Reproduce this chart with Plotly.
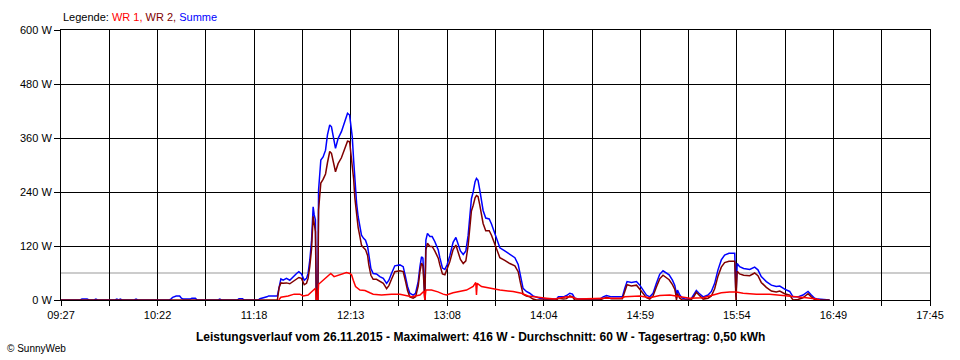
import numpy as np
import plotly.graph_objects as go

# ---------------- data (time = minutes after midnight, values in W) ----------------
zeit = [
    567, 578, 579, 582, 583, 586, 587, 588, 598, 599,
    600, 601, 602, 609, 610, 611, 629, 630, 631, 633,
    635, 636, 637, 641, 642, 644, 645, 657, 658, 659,
    668, 669, 671, 672, 680, 681, 685, 686, 691, 692,
    693, 694.3, 696.2, 698.1, 700, 702, 703.3, 704.8, 706.4, 707.7,
    708.6, 709.6, 710.6, 711.5, 712.1, 712.8, 713.3, 714.2, 714.6, 715.9,
    717.2, 718.6, 719.7, 721, 722, 723.2, 724.3, 725.8, 727.7, 729.6,
    731.2, 732.4, 733.1, 733.9, 734.7, 735.4, 736.4, 737.3, 738.3, 739.2,
    740.4, 741.5, 742.7, 743.4, 744.6, 745.9, 747.8, 749.7, 751.7, 753.6,
    754.9, 756.4, 758.3, 761.2, 763.1, 764.4, 765.6, 766.9, 768.8, 770.2,
    771.7, 772.7, 773.6, 774.4, 775.1, 775.5, 776.1, 777, 778.4, 779.7,
    781.2, 783.2, 784.1, 785.6, 787, 788.3, 789.8, 791.7, 793.3, 794.6,
    795.9, 797.5, 799, 800.3, 801.3, 802.2, 803.2, 804.3, 805.1, 806,
    807, 808, 808.9, 810.4, 812.4, 813.7, 815, 816.6, 818.5, 821.3,
    824.2, 827.1, 829, 830.3, 831.8, 833.7, 835.6, 837.5, 839.5, 841.4,
    845, 851, 852, 855, 856.7, 858.6, 860.1, 861.4, 863.4, 875.8,
    877.7, 879.6, 882.4, 888.7, 890.1, 891.4, 893.9, 896.8, 898.7, 900.6,
    902.5, 904.4, 906.3, 908.2, 910.1, 912, 913.6, 915.5, 917.4, 918.7,
    919.3, 919.7, 920.3, 921.6, 923.1, 925, 928, 929.6, 931.1, 932.6,
    935, 937.8, 939.7, 941.6, 943.5, 945.4, 947.3, 949.8, 952.1, 953.1,
    953.8, 954.5, 955.9, 958.2, 961.7, 964.5, 966.4, 968.3, 971.2, 974.1,
    976.9, 978.9, 981.7, 984.6, 986.5, 989.3, 992.2, 995.1, 997, 998.9,
    1000.8, 1007.5,
]
summe = [
    0, 0, 2, 2, 0, 0, 2, 0, 0, 2,
    0, 2, 0, 0, 2, 0, 0, 2, 6, 9,
    9, 4, 2, 2, 4, 4, 0, 0, 2, 0,
    0, 3, 3, 0, 0, 3, 7, 9, 9, 30,
    47, 44, 48, 44, 52, 59, 63, 58, 44, 48,
    59, 89, 133, 207, 189, 178, 0, 0, 244, 311,
    318, 333, 367, 389, 385, 356, 337, 359, 374, 396,
    415, 411, 385, 363, 311, 259, 215, 185, 163, 144,
    137, 133, 119, 96, 70, 59, 58, 52, 48, 37,
    44, 59, 76, 78, 74, 52, 30, 15, 11, 15,
    41, 74, 96, 93, 30, 0, 133, 148, 141, 141,
    130, 111, 94, 71, 68, 79, 98, 128, 139, 124,
    109, 101, 109, 143, 188, 225, 240, 263, 270, 266,
    244, 221, 199, 182, 180, 169, 154, 135, 116, 109,
    101, 94, 79, 53, 26, 19, 15, 9, 6, 4,
    2, 2, 7, 7, 10, 15, 13, 4, 2, 2,
    7, 10, 7, 7, 26, 41, 39, 41, 33, 22,
    11, 7, 15, 37, 57, 65, 61, 56, 44, 33,
    22, 4, 22, 11, 4, 2, 2, 11, 21, 15,
    7, 11, 19, 37, 67, 89, 100, 104, 105, 104,
    7, 81, 74, 70, 68, 73, 67, 52, 41, 33,
    30, 31, 24, 19, 7, 7, 11, 19, 11, 4,
    2, 0,
]
wr2 = [
    0, 0, 0, 0, 0, 0, 0, 0, 0, 0,
    0, 0, 0, 0, 0, 0, 0, 0, 0, 0,
    0, 0, 0, 0, 0, 0, 0, 0, 0, 0,
    0, 0, 0, 0, 0, 0, 0, 0, 0, 28,
    38, 37, 38, 36, 41, 47, 50, 48, 34, 37,
    48, 75, 114, 186, 165, 152, 0, 0, 200, 260,
    268, 280, 305, 330, 326, 303, 285, 303, 316, 336,
    353, 352, 328, 309, 269, 227, 188, 161, 141, 122,
    116, 112, 99, 78, 55, 46, 46, 41, 37, 25,
    32, 46, 63, 65, 63, 42, 21, 7, 4, 7,
    31, 63, 82, 76, 10, 0, 111, 126, 119, 119,
    109, 93, 78, 58, 56, 68, 85, 112, 122, 106,
    90, 81, 87, 120, 163, 198, 210, 227, 232, 230,
    211, 191, 170, 154, 154, 144, 130, 112, 94, 88,
    81, 76, 63, 38, 13, 9, 7, 2, 0, 0,
    0, 0, 4, 2, 3, 9, 7, 0, 0, 0,
    3, 6, 3, 3, 19, 34, 31, 33, 24, 14,
    5, 2, 9, 29, 47, 55, 50, 45, 34, 24,
    13, 0, 14, 4, 0, 0, 0, 7, 17, 11,
    2, 4, 9, 25, 53, 73, 83, 86, 87, 86,
    0, 64, 58, 55, 54, 60, 54, 39, 28, 20,
    18, 20, 14, 11, 0, 1, 5, 14, 7, 1,
    0, 0,
]
zeit_wr1 = [
    691.8, 693, 697.2, 700.6, 703.9, 705.8, 708.6, 710.6, 712.8, 713.3,
    714.2, 714.6, 717.2, 719.1, 721.6, 723.5, 725.4, 728.1, 730.6, 732.5,
    733.5, 734.5, 735.8, 738.3, 741.2, 744, 745.9, 750.7, 756.4, 761.2,
    764.1, 767.9, 772.7, 775.1, 775.5, 776.1, 779.3, 783, 786, 787.9,
    791.7, 795.6, 799.4, 803.2, 804.7, 805.1, 805.5, 808, 812.7, 818.5,
    826.1, 830.9, 834.7, 839.5, 845.2, 850, 856.7, 860.5, 863, 877.7,
    888, 890.1, 898.7, 904.4, 910.1, 915.9, 921.6, 927.3, 935, 940.7,
    945.4, 950.2, 954, 957.9, 965.5, 973.1, 978.9, 986.5, 994.1, 999.9,
    1002,
]
wr1 = [
    0, 6, 9, 13, 13, 9, 11, 19, 26, 0,
    0, 35, 44, 50, 59, 52, 54, 58, 61, 59,
    56, 44, 30, 22, 21, 16, 13, 11, 13, 13,
    10, 7, 11, 20, 0, 22, 22, 18, 13, 11,
    16, 19, 22, 30, 39, 11, 37, 30, 26, 22,
    19, 15, 9, 6, 4, 2, 7, 6, 2, 4,
    4, 7, 9, 5, 10, 11, 7, 4, 5, 11,
    16, 18, 18, 15, 13, 13, 11, 7, 5, 2,
    0,
]
durchschnitt = 60
x_tick_labels = ["09:27", "10:22", "11:18", "12:13", "13:08",
                 "14:04", "14:59", "15:54", "16:49", "17:45"]
y_tick_values = [0, 120, 240, 360, 480, 600]

assert len(zeit) == len(summe) == len(wr2)
assert len(zeit_wr1) == len(wr1)

FONT = "Liberation Sans"

fig = go.Figure()
fig.add_trace(go.Scatter(x=zeit, y=summe, mode="lines", name="Summe",
                         line=dict(color="#0000FF", width=1.5)))
fig.add_trace(go.Scatter(x=zeit, y=wr2, mode="lines", name="WR 2",
                         line=dict(color="#800000", width=1.5)))
fig.add_trace(go.Scatter(x=zeit_wr1, y=wr1, mode="lines", name="WR 1",
                         line=dict(color="#FF0000", width=1.5)))

# x ticks: every gridline, label on every second
x0 = 9 * 60 + 27
x1 = 17 * 60 + 45
tickvals_x = list(np.linspace(x0, x1, 2 * len(x_tick_labels) - 1))
ticktext_x = []
for i, lab in enumerate(x_tick_labels):
    ticktext_x.append(lab)
    if i < len(x_tick_labels) - 1:
        ticktext_x.append("")

fig.add_shape(type="line", xref="paper", x0=0, x1=1, yref="y",
              y0=durchschnitt, y1=durchschnitt,
              line=dict(color="#999999", width=1), layer="below")

fig.update_xaxes(range=[x0, x1], tickmode="array", tickvals=tickvals_x,
                 ticktext=ticktext_x, showgrid=True, gridcolor="black",
                 gridwidth=1, showline=True, linecolor="black", linewidth=1,
                 mirror=True, ticks="outside", ticklen=5, tickcolor="black",
                 zeroline=False, tickfont=dict(family=FONT, size=11, color="black"))
fig.update_yaxes(range=[0, 600], tickmode="array", tickvals=y_tick_values,
                 ticktext=[f"{v} W" for v in y_tick_values], showgrid=True,
                 gridcolor="black", gridwidth=1, showline=True,
                 linecolor="black", linewidth=1, mirror=True, ticks="outside",
                 ticklen=6, tickcolor="black", zeroline=False,
                 tickfont=dict(family=FONT, size=11, color="black"))

fig.add_annotation(
    xref="paper", yref="paper", x=0, y=1.048, xanchor="left", yanchor="middle",
    showarrow=False, font=dict(family=FONT, size=11, color="black"),
    text=("Legende: <span style='color:#FF0000'>WR 1,</span> "
          "<span style='color:#800000'>WR 2,</span> "
          "<span style='color:#0000FF'>Summe</span>"))
fig.add_annotation(
    xref="paper", yref="paper", x=(480 - 61) / 869, y=-0.137,
    xanchor="center", yanchor="middle", showarrow=False,
    font=dict(family=FONT, size=12, color="black"),
    text="<b>Leistungsverlauf vom 26.11.2015 - Maximalwert: 416 W - "
         "Durchschnitt: 60 W - Tagesertrag: 0,50 kWh</b>")
fig.add_annotation(
    xref="paper", yref="paper", x=(5 - 61) / 869, y=-0.18,
    xanchor="left", yanchor="middle", showarrow=False,
    font=dict(family=FONT, size=10, color="black"),
    text="© SunnyWeb")

fig.update_layout(
    width=960, height=360, margin=dict(l=61, r=30, t=30, b=60),
    paper_bgcolor="white", plot_bgcolor="white", showlegend=False,
    hovermode=False,
)
fig.write_html("out.html", config={"displayModeBar": False})

# remove the default browser page margin so the figure sits at (0, 0)
with open("out.html", "r", encoding="utf-8") as f:
    html = f.read()
html = html.replace("<head>", "<head><style>html,body{margin:0;padding:0;overflow:hidden}</style>", 1)
with open("out.html", "w", encoding="utf-8") as f:
    f.write(html)
